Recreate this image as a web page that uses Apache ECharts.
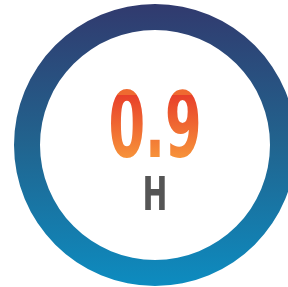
<!DOCTYPE html>
<html>
<head>
<meta charset="utf-8">
<script src="https://cdn.jsdelivr.net/npm/echarts@6/dist/echarts.min.js"></script>
<style>
    html, body { margin: 0; padding: 0; background: #fff; }
    #main { width: 288px; height: 287px; }
</style>
</head>
<body>
<div id="main"></div>
<script>
    // 数据
    var ringValues = [1];
    var valueText = ['0.9'];
    var unitText = ['H'];

    var myChart = echarts.init(document.getElementById('main'));
    var cx = 155, cy = 145;
    var option = {
        animation: false,
        series: [{
            type: 'pie',
            center: [cx, cy],
            radius: [115, 141],
            silent: true,
            label: { show: false },
            labelLine: { show: false },
            itemStyle: {
                color: new echarts.graphic.LinearGradient(0, 0, 0, 1, [
                    { offset: 0, color: '#313a6e' },
                    { offset: 0.5, color: '#21648f' },
                    { offset: 1, color: '#0d8cc0' }
                ])
            },
            data: ringValues.map(function (v) { return { value: v }; })
        }],
        graphic: [{
            type: 'text',
            x: cx,
            y: 134,
            scaleX: 0.65,
            z: 10,
            style: {
                text: valueText[0],
                font: 'bold 90px "Liberation Sans Narrow", "DejaVu Sans Condensed", sans-serif',
                align: 'center',
                verticalAlign: 'middle',
                fill: '#ef6a30'
            }
        }, {
            // 渐变叠加在数字上
            type: 'rect',
            z: 11,
            silent: true,
            shape: { x: 100, y: 95, width: 110, height: 64 },
            style: {
                blend: 'source-atop',
                fill: new echarts.graphic.LinearGradient(0, 0, 0, 1, [
                    { offset: 0, color: '#e8402a' },
                    { offset: 1, color: '#f7943a' }
                ])
            }
        }, {
            type: 'text',
            x: cx,
            y: 198,
            scaleX: 0.72,
            z: 10,
            style: {
                text: unitText[0],
                font: 'bold 46px "Liberation Sans Narrow", "DejaVu Sans Condensed", sans-serif',
                align: 'center',
                verticalAlign: 'middle',
                fill: '#555555'
            }
        }]
    };
    myChart.setOption(option);
</script>
</body>
</html>
